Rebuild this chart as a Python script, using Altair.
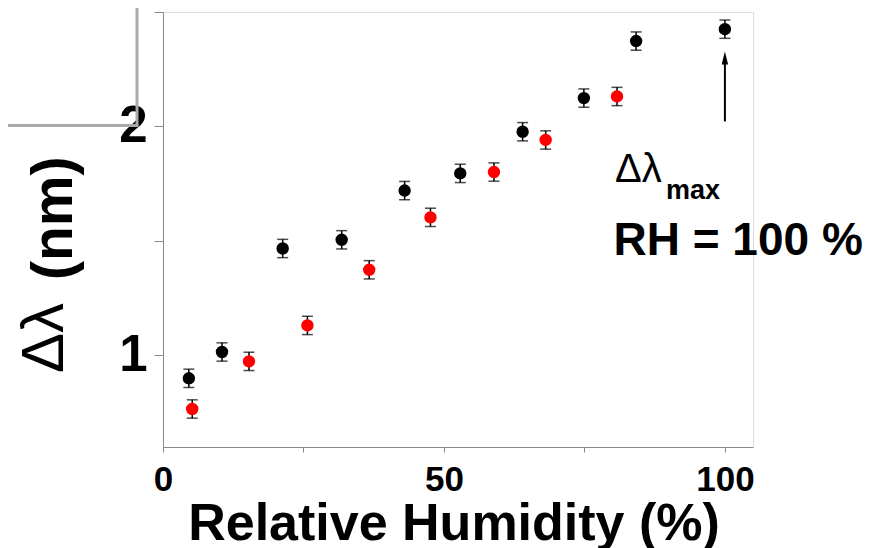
import altair as alt
import pandas as pd

# ---- data ----
black_rh = [4.6, 10.5, 21.3, 31.8, 43.0, 52.9, 64.0, 74.9, 84.2, 100.0]
black_dl = [0.90, 1.015, 1.467, 1.505, 1.72, 1.795, 1.977, 2.124, 2.373, 2.425]
red_rh = [5.2, 15.3, 25.7, 36.7, 47.6, 58.9, 68.1, 80.8]
red_dl = [0.766, 0.974, 1.131, 1.374, 1.603, 1.801, 1.941, 2.131]
err = 0.04

x_ticks = [0, 25, 50, 75, 100]
y_ticks = [1, 1.5, 2, 2.5]

arrow_x = [100]
arrow_from = [2.022]
arrow_to = [2.29]
arrow_head = [2.299]

rows = []
for rh, dl in zip(black_rh, black_dl):
    rows.append({"rh": rh, "dl": dl, "lo": dl - err, "hi": dl + err, "s": "black"})
for rh, dl in zip(red_rh, red_dl):
    rows.append({"rh": rh, "dl": dl, "lo": dl - err, "hi": dl + err, "s": "red"})
df = pd.DataFrame(rows)

FONT = "Liberation Sans"

xscale = alt.Scale(domain=[0, 105], nice=False, zero=False)
yscale = alt.Scale(domain=[0.6, 2.5], nice=False, zero=False)

xaxis = alt.Axis(values=x_ticks, format=".0f",
                 labelExpr="datum.value % 50 === 0 ? format(datum.value, '.0f') : ''",
                 tickSize=5, labelFontSize=35, labelPadding=10, labelFlush=False,
                 labelFont=FONT, labelFontWeight="bold", labelColor="black",
                 labelOverlap=False, title=None, grid=False)
yaxis = alt.Axis(values=y_ticks, format=".0f",
                 labelExpr="datum.value % 1 === 0 ? format(datum.value, '.0f') : ''",
                 tickSize=9, labelFontSize=51, labelPadding=7, labelOverlap=False,
                 labelFont=FONT, labelFontWeight="bold", labelColor="black",
                 title=None, grid=False)

X = lambda f: alt.X(f"{f}:Q", scale=xscale, axis=xaxis)
Y = lambda f: alt.Y(f"{f}:Q", scale=yscale, axis=yaxis)

base = alt.Chart(df)

bars = base.mark_rule(color="black", strokeWidth=1.5).encode(x=X("rh"), y=Y("lo"), y2="hi:Q")
cap_lo = base.mark_tick(color="black", orient="horizontal", size=11, thickness=1.5).encode(x=X("rh"), y=Y("lo"))
cap_hi = base.mark_tick(color="black", orient="horizontal", size=11, thickness=1.5).encode(x=X("rh"), y=Y("hi"))
pts = base.mark_circle(size=154, opacity=1).encode(
    x=X("rh"), y=Y("dl"),
    color=alt.Color("s:N", scale=alt.Scale(domain=["black", "red"], range=["#000000", "#ff0000"]), legend=None),
)

adf = pd.DataFrame({"x": arrow_x, "y": arrow_from, "y2": arrow_to, "yh": arrow_head})
arrow = alt.Chart(adf).mark_rule(color="black", strokeWidth=2).encode(x=X("x"), y=Y("y"), y2="y2:Q")
head = alt.Chart(adf).mark_point(shape="M0,-1L0.5,1L-0.5,1Z", size=169, filled=True,
                                 color="black", opacity=1).encode(x=X("x"), y=Y("yh"))

one = alt.Data(values=[{"a": 1}])

def txt(s, x, y, size, weight="normal", font=FONT, angle=0, align="left"):
    return alt.Chart(one).mark_text(text=s, fontSize=size, fontWeight=weight, font=font,
                                    align=align, baseline="alphabetic", angle=angle,
                                    color="black").encode(x=alt.value(x), y=alt.value(y))

texts = [
    txt("Δλ", 452, 170, 40),
    txt("max", 503, 187, 27, "bold"),
    txt("RH = 100 %", 450.5, 243, 46, "bold"),
    txt("Relative Humidity (%)", 291, 528, 52, "bold", align="center"),
    txt("Δλ", -100, 361, 60, angle=270),
    txt("(nm)", -91, 268, 57, "bold", angle=270),
]

gray_v = alt.Chart(one).mark_rule(color="#aaaaaa", strokeWidth=3).encode(
    x=alt.value(-26), y=alt.value(-6), y2=alt.value(113.5))
gray_h = alt.Chart(one).mark_rule(color="#aaaaaa", strokeWidth=3).encode(
    x=alt.value(-156), x2=alt.value(-24.5), y=alt.value(113.5))

chart = alt.layer(gray_v, gray_h, bars, cap_lo, cap_hi, pts, arrow, head, *texts).properties(
    width=590, height=435,
    autosize=alt.AutoSizeParams(type="none"),
    padding={"left": 155, "top": 4, "right": 110, "bottom": 101},
).configure_view(stroke=None).configure_axis(
    domainColor="black", domainWidth=2, tickColor="black", tickWidth=1.5,
).configure(background="white")

chart.save("out.html", embed_options={"renderer": "svg", "actions": False})
